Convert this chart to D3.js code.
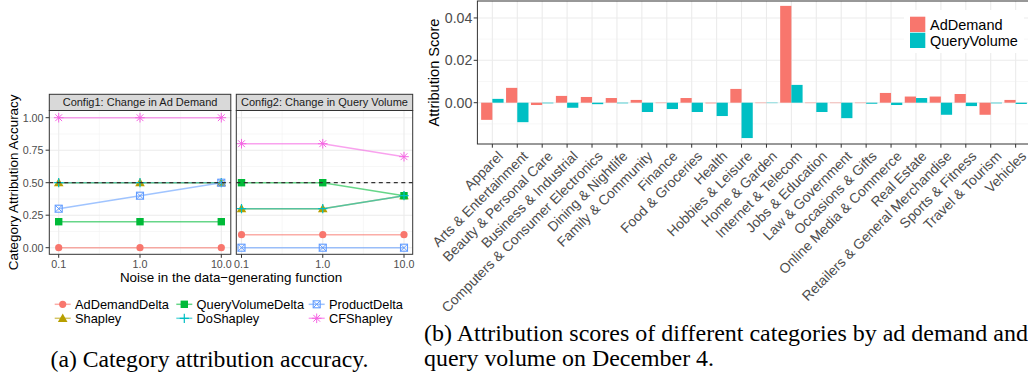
<!DOCTYPE html>
<meta charset="utf-8">
<head>
<script type="text/javascript" src="https://cdn.jsdelivr.net/npm/d3@7"></script>
<style>
body { margin: 0; background: #fff; }
svg { font-family: "Liberation Sans", Arial, sans-serif; }
.caption { font-family: "Liberation Serif", "Times New Roman", serif; font-size: 23px; fill: #000; }
</style>
</head>
<body>
<script type="text/javascript">

// donnees - panneau (a)
var noise = [0.1, 1.0, 10.0];
var methods = ["AdDemandDelta", "Shapley", "QueryVolumeDelta", "DoShapley", "ProductDelta", "CFShapley"];
var methodColors = ["#F8766D", "#B79F00", "#00BA38", "#00BFC4", "#619CFF", "#F564E3"];
var methodShapes = ["circle", "triangle", "square", "plus", "squarex", "asterisk"];
var facets = ["Config1: Change in Ad Demand", "Config2: Change in Query Volume"];
var config1 = {
  AdDemandDelta: [0, 0, 0],
  Shapley: [0.5, 0.5, 0.5],
  QueryVolumeDelta: [0.2, 0.2, 0.2],
  DoShapley: [0.5, 0.5, 0.5],
  ProductDelta: [0.3, 0.4, 0.5],
  CFShapley: [1, 1, 1]
};
var config2 = {
  AdDemandDelta: [0.1, 0.1, 0.1],
  Shapley: [0.3, 0.3, 0.4],
  QueryVolumeDelta: [0.5, 0.5, 0.4],
  DoShapley: [0.3, 0.3, 0.4],
  ProductDelta: [0, 0, 0],
  CFShapley: [0.8, 0.8, 0.7]
};
var accTicks = [0, 0.25, 0.5, 0.75, 1];
var baseline = 0.5;

// donnees - panneau (b)
var categories = ["Apparel", "Arts & Entertainment", "Beauty & Personal Care", "Business & Industrial",
  "Computers & Consumer Electronics", "Dining & Nightlife", "Family & Community", "Finance",
  "Food & Groceries", "Health", "Hobbies & Leisure", "Home & Garden", "Internet & Telecom",
  "Jobs & Education", "Law & Government", "Occasions & Gifts", "Online Media & Commerce",
  "Real Estate", "Retailers & General Merchandise", "Sports & Fitness", "Travel & Tourism", "Vehicles"];
var adDemand = [-0.0081, 0.0070, -0.0011, 0.0032, 0.0027, 0.0022, 0.0013, -0.0002,
  0.0022, -0.0003, 0.0065, -0.0002, 0.0457, -0.0002, -0.0002, -0.0002, 0.0046,
  0.0029, 0.0029, 0.0041, -0.0057, 0.0013];
var queryVolume = [0.0018, -0.0092, -0.0003, -0.0024, -0.0007, -0.0003, -0.0044, -0.0030,
  -0.0044, -0.0063, -0.0167, -0.0002, 0.0084, -0.0044, -0.0073, -0.0005, -0.0011,
  0.0022, -0.0057, -0.0016, -0.0003, -0.0006];
var seriesNames = ["AdDemand", "QueryVolume"];
var seriesColors = ["#F8766D", "#00BFC4"];
var scoreTicks = [0, 0.02, 0.04];
var scoreMinor = [-0.01, 0.01, 0.03];

var width = 1028, height = 375;
var svg = d3.select("body").append("svg")
    .attr("width", width)
    .attr("height", height);

// ---------- (a) ----------
var panelTop = 110.5, panelBottom = 254.3, stripTop = 94.3;
var y = d3.scaleLinear().domain([0, 1]).range([247.7, 117.7]);
var facetBoxes = [
  {left: 49.3, right: 230.8, x0: 58.7, x1: 221.3, data: config1},
  {left: 236.3, right: 412.7, x0: 241.5, x1: 404, data: config2}
];

function marker(g, shape, color, cx, cy) {
  if (shape == "circle") {
    g.append("circle").attr("cx", cx).attr("cy", cy).attr("r", 3.6).attr("fill", color);
  } else if (shape == "square") {
    g.append("rect").attr("x", cx - 3.7).attr("y", cy - 3.7).attr("width", 7.4).attr("height", 7.4).attr("fill", color);
  } else if (shape == "triangle") {
    var s = 4.8;
    g.append("path").attr("d", "M" + cx + "," + (cy - s) + "L" + (cx + s) + "," + (cy + s * 0.75) + "L" + (cx - s) + "," + (cy + s * 0.75) + "Z").attr("fill", color);
  } else if (shape == "plus") {
    g.append("path").attr("d", "M" + (cx - 4.6) + "," + cy + "H" + (cx + 4.6) + "M" + cx + "," + (cy - 4.6) + "V" + (cy + 4.6))
      .attr("stroke", color).attr("stroke-width", 1.2).attr("fill", "none");
  } else if (shape == "squarex") {
    var h = 3.5;
    g.append("rect").attr("x", cx - h).attr("y", cy - h).attr("width", 2 * h).attr("height", 2 * h)
      .attr("fill", "none").attr("stroke", color).attr("stroke-width", 1.1);
    g.append("path").attr("d", "M" + (cx - h) + "," + (cy - h) + "L" + (cx + h) + "," + (cy + h) + "M" + (cx + h) + "," + (cy - h) + "L" + (cx - h) + "," + (cy + h))
      .attr("stroke", color).attr("stroke-width", 1).attr("fill", "none");
  } else if (shape == "asterisk") {
    var a = 4.8, b = 3.4;
    g.append("path").attr("d", "M" + (cx - a) + "," + cy + "H" + (cx + a) + "M" + cx + "," + (cy - a) + "V" + (cy + a) +
      "M" + (cx - b) + "," + (cy - b) + "L" + (cx + b) + "," + (cy + b) + "M" + (cx + b) + "," + (cy - b) + "L" + (cx - b) + "," + (cy + b))
      .attr("stroke", color).attr("stroke-width", 1).attr("fill", "none");
  }
}

facetBoxes.forEach(function(f, fi) {
  var x = d3.scaleLog().domain([0.1, 10]).range([f.x0, f.x1]);
  var g = svg.append("g");

  g.append("rect").attr("x", f.left).attr("y", panelTop).attr("width", f.right - f.left)
    .attr("height", panelBottom - panelTop).attr("fill", "#fff");

  // grille mineure
  [0.125, 0.375, 0.625, 0.875].forEach(function(v) {
    g.append("line").attr("x1", f.left).attr("x2", f.right).attr("y1", y(v)).attr("y2", y(v))
      .attr("stroke", "#F2F2F2").attr("stroke-width", 0.6);
  });
  [Math.sqrt(0.1), Math.sqrt(10)].forEach(function(v) {
    g.append("line").attr("x1", x(v)).attr("x2", x(v)).attr("y1", panelTop).attr("y2", panelBottom)
      .attr("stroke", "#F2F2F2").attr("stroke-width", 0.6);
  });
  // grille majeure
  accTicks.forEach(function(v) {
    g.append("line").attr("x1", f.left).attr("x2", f.right).attr("y1", y(v)).attr("y2", y(v))
      .attr("stroke", "#EBEBEB").attr("stroke-width", 1.1);
  });
  noise.forEach(function(v) {
    g.append("line").attr("x1", x(v)).attr("x2", x(v)).attr("y1", panelTop).attr("y2", panelBottom)
      .attr("stroke", "#EBEBEB").attr("stroke-width", 1.1);
  });

  var line = d3.line().x(function(d, i) { return x(noise[i]); }).y(function(d) { return y(d); });
  methods.forEach(function(m, mi) {
    g.append("path").datum(f.data[m]).attr("d", line)
      .attr("fill", "none").attr("stroke", methodColors[mi]).attr("stroke-width", 1.5).attr("stroke-opacity", 0.6);
  });
  methods.forEach(function(m, mi) {
    f.data[m].forEach(function(v, i) {
      marker(g, methodShapes[mi], methodColors[mi], x(noise[i]), y(v));
    });
  });

  g.append("line").attr("x1", f.left).attr("x2", f.right).attr("y1", y(baseline)).attr("y2", y(baseline))
    .attr("stroke", "#333").attr("stroke-width", 1.3).attr("stroke-dasharray", "4,3.5");

  g.append("rect").attr("x", f.left).attr("y", panelTop).attr("width", f.right - f.left)
    .attr("height", panelBottom - panelTop).attr("fill", "none").attr("stroke", "#333").attr("stroke-width", 1);

  // bandeau
  g.append("rect").attr("x", f.left).attr("y", stripTop).attr("width", f.right - f.left)
    .attr("height", panelTop - stripTop).attr("fill", "#D9D9D9").attr("stroke", "#333").attr("stroke-width", 1);
  g.append("text").attr("x", (f.left + f.right) / 2).attr("y", (stripTop + panelTop) / 2 + 4)
    .attr("text-anchor", "middle").attr("font-size", "11px").attr("fill", "#1A1A1A").text(facets[fi]);

  // axe x
  noise.forEach(function(v) {
    g.append("line").attr("x1", x(v)).attr("x2", x(v)).attr("y1", panelBottom).attr("y2", panelBottom + 3.5)
      .attr("stroke", "#333");
    g.append("text").attr("x", x(v)).attr("y", 268).attr("text-anchor", "middle")
      .attr("font-size", "10.7px").attr("fill", "#4D4D4D").text(d3.format(".1f")(v));
  });
});

// axe y (a)
accTicks.forEach(function(v) {
  svg.append("line").attr("x1", 45.6).attr("x2", 49.3).attr("y1", y(v)).attr("y2", y(v)).attr("stroke", "#333");
  svg.append("text").attr("x", 43.5).attr("y", y(v) + 3.8).attr("text-anchor", "end")
    .attr("font-size", "10.7px").attr("fill", "#4D4D4D").text(d3.format(".2f")(v));
});
svg.append("text").attr("transform", "translate(17.8," + ((panelTop + panelBottom) / 2) + ") rotate(-90)")
  .attr("text-anchor", "middle").attr("font-size", "13.4px").attr("fill", "#000").text("Category Attribution Accuracy");
svg.append("text").attr("x", 231).attr("y", 282).attr("text-anchor", "middle")
  .attr("font-size", "13.4px").attr("fill", "#000").text("Noise in the data\u2212generating function");

// legende (a)
var legCols = [62.7, 184.3, 316.7], legRows = [304.3, 318.3];
methods.forEach(function(m, mi) {
  var cx = legCols[Math.floor(mi / 2)], cy = legRows[mi % 2];
  var lg = svg.append("g");
  lg.append("line").attr("x1", cx - 8).attr("x2", cx + 8).attr("y1", cy).attr("y2", cy)
    .attr("stroke", methodColors[mi]).attr("stroke-width", 1.5).attr("stroke-opacity", 0.6);
  marker(lg, methodShapes[mi], methodColors[mi], cx, cy);
  lg.append("text").attr("x", cx + 12.3).attr("y", cy + 4.6).attr("font-size", "12.8px").attr("fill", "#000").text(m);
});

svg.append("text").attr("class", "caption").attr("x", 50.5).attr("y", 366.5)
  .attr("textLength", 318).attr("lengthAdjust", "spacingAndGlyphs").text("(a) Category attribution accuracy.");

// ---------- (b) ----------
var bLeft = 477.4, bRight = 1030.6, bTop = 1, bBottom = 144;
var xb = d3.scalePoint().domain(categories).range([bLeft, bRight]).padding(0.6);
var yb = d3.scaleLinear().domain([-0.0195, 0.048]).range([bBottom, bTop]);
var step = xb.step(), bw = step * 0.45;
var gb = svg.append("g");

scoreMinor.forEach(function(v) {
  gb.append("line").attr("x1", bLeft).attr("x2", bRight).attr("y1", yb(v)).attr("y2", yb(v))
    .attr("stroke", "#F2F2F2").attr("stroke-width", 0.6);
});
scoreTicks.forEach(function(v) {
  gb.append("line").attr("x1", bLeft).attr("x2", bRight).attr("y1", yb(v)).attr("y2", yb(v))
    .attr("stroke", "#EBEBEB").attr("stroke-width", 1.1);
});
categories.forEach(function(c) {
  gb.append("line").attr("x1", xb(c)).attr("x2", xb(c)).attr("y1", bTop).attr("y2", bBottom)
    .attr("stroke", "#EBEBEB").attr("stroke-width", 1.1);
});

[adDemand, queryVolume].forEach(function(vals, si) {
  gb.selectAll(".bar" + si).data(vals).enter().append("rect")
    .attr("x", function(d, i) { return xb(categories[i]) - bw + si * bw; })
    .attr("y", function(d) { return yb(Math.max(0, d)); })
    .attr("width", bw)
    .attr("height", function(d) { return Math.abs(yb(d) - yb(0)); })
    .attr("fill", seriesColors[si]);
});

gb.append("rect").attr("x", bLeft).attr("y", bTop).attr("width", bRight - bLeft).attr("height", bBottom - bTop)
  .attr("fill", "none").attr("stroke", "#333").attr("stroke-width", 1);

scoreTicks.forEach(function(v) {
  gb.append("line").attr("x1", bLeft - 3.7).attr("x2", bLeft).attr("y1", yb(v)).attr("y2", yb(v)).attr("stroke", "#333");
  gb.append("text").attr("x", bLeft - 5).attr("y", yb(v) + 5).attr("text-anchor", "end")
    .attr("font-size", "14.2px").attr("fill", "#4D4D4D").text(d3.format(".2f")(v));
});
categories.forEach(function(c) {
  gb.append("line").attr("x1", xb(c)).attr("x2", xb(c)).attr("y1", bBottom).attr("y2", bBottom + 3.7).attr("stroke", "#333");
  gb.append("text").attr("transform", "translate(" + (xb(c) + 4.5) + ",150) rotate(-45)")
    .attr("text-anchor", "end").attr("dy", "0.72em")
    .attr("font-size", "13.9px").attr("fill", "#4D4D4D").text(c);
});
gb.append("text").attr("transform", "translate(439," + ((bTop + bBottom) / 2) + ") rotate(-90)")
  .attr("text-anchor", "middle").attr("font-size", "14.6px").attr("fill", "#000").text("Attribution Score");

// legende (b)
gb.append("rect").attr("x", 904).attr("y", 10).attr("width", 120).attr("height", 43).attr("fill", "#fff");
seriesNames.forEach(function(s, si) {
  gb.append("rect").attr("x", 910).attr("y", 16.7 + si * 16).attr("width", 15.3).attr("height", 15.3).attr("fill", seriesColors[si]);
  gb.append("text").attr("x", 930).attr("y", 29.5 + si * 16).attr("font-size", "14.5px").attr("fill", "#000").text(s);
});

svg.append("text").attr("class", "caption").attr("x", 424).attr("y", 341)
  .attr("textLength", 604).attr("lengthAdjust", "spacingAndGlyphs").text("(b) Attribution scores of different categories by ad demand and");
svg.append("text").attr("class", "caption").attr("x", 424).attr("y", 365.5)
  .attr("textLength", 290).attr("lengthAdjust", "spacingAndGlyphs").text("query volume on December 4.");

</script>
</body>
